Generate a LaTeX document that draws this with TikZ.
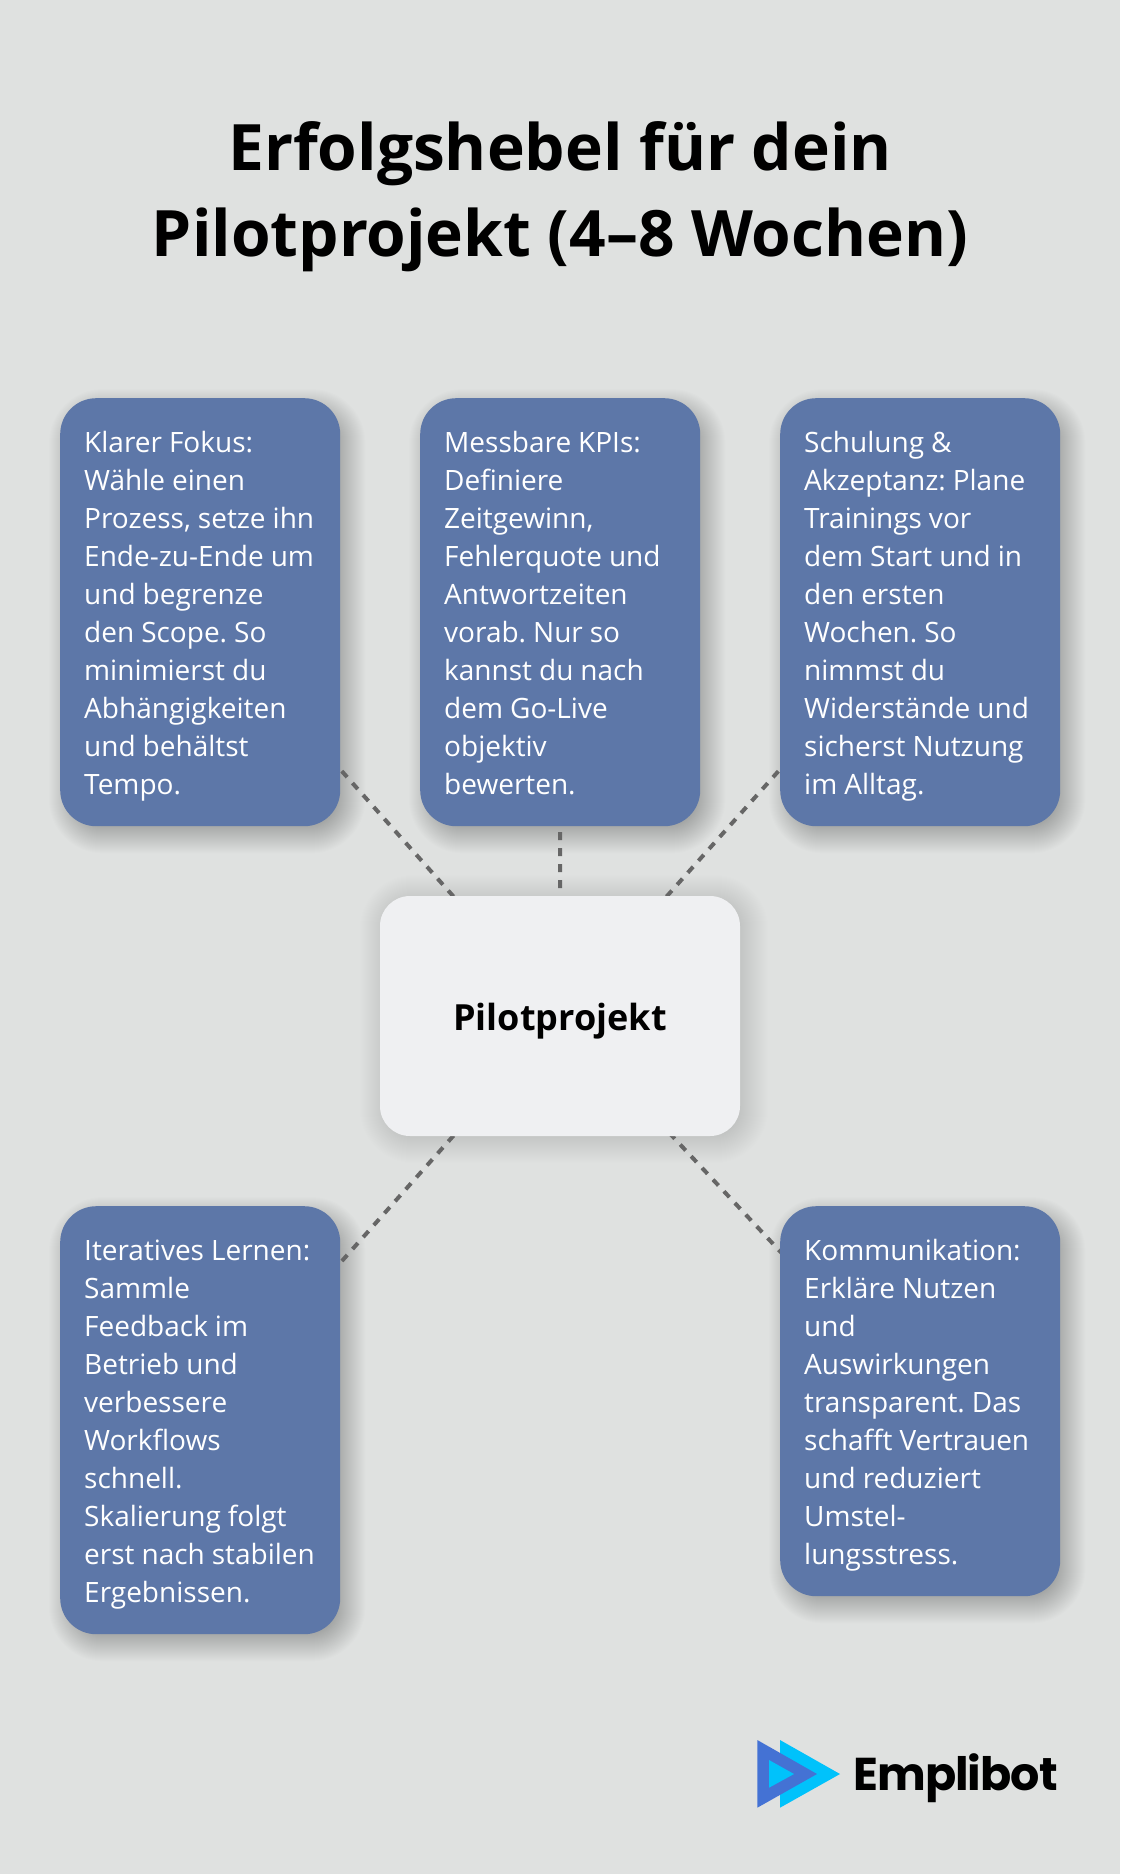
\documentclass[tikz,border=0pt]{standalone}
\usepackage{fontspec}
\setmainfont{Open Sans}
\newfontfamily\logofont[LetterSpace=-2]{Poppins}
\usetikzlibrary{calc}
\definecolor{pagebg}{HTML}{DFE1E0}
\definecolor{cardblue}{HTML}{5D77A8}
\definecolor{hubfill}{HTML}{EFF0F2}
\definecolor{linkgrey}{HTML}{666666}
\definecolor{logodark}{HTML}{4472D4}
\definecolor{logolight}{HTML}{00C2FB}
\pgfdeclarelayer{pagelayer}
\pgfdeclarelayer{shadowlayer}
\pgfdeclarelayer{linklayer}
\pgfsetlayers{pagelayer,shadowlayer,linklayer,main}
% node, dx, dy, radius, spread, opacity per step
\newcommand{\softshadow}[6]{%
  \foreach \s in {-#5,...,#5}{%
    \pgfmathsetmacro\rr{max(4,#4+\s)}%
    \fill[black,fill opacity=#6,rounded corners=\rr pt]
      ([shift={({#2pt-\s pt},{-#3pt+\s pt})}]#1.north west)
      rectangle ([shift={({#2pt+\s pt},{-#3pt-\s pt})}]#1.south east);
  }%
}
\tikzset{
  card/.style={draw=none,fill=cardblue,text=white,rounded corners=36pt,
    minimum width=280pt,text width=232pt,inner xsep=24pt,inner ysep=24pt,
    align=left,anchor=north west,font=\fontsize{28}{38}\selectfont\frenchspacing,
    execute at begin node={\spaceskip=7pt\rule{0pt}{30.4pt}},
    execute at end node={\rule[-7.6pt]{0pt}{0pt}}},
  hub/.style={draw=none,fill=hubfill,text=black,rounded corners=30pt,
    minimum width=360pt,minimum height=240pt,text height=28pt,text depth=0pt,
    font=\fontsize{36}{44}\bfseries\selectfont},
  link/.style={draw=linkgrey,line width=4pt,dash pattern=on 8pt off 8pt},
  titletext/.style={align=center,text=black,font=\fontsize{64}{86}\bfseries\selectfont},
}
\begin{document}
\begin{tikzpicture}[x=1pt,y=-1pt]
\useasboundingbox (0,0) rectangle (1120,1874);
\begin{pgfonlayer}{pagelayer}
\fill[pagebg] (0,0) rectangle (1120,1874);
\end{pgfonlayer}

\node[titletext] (title) at (560,197) {Erfolgshebel für dein\\Pilotprojekt (4–8 Wochen)};

\node[card] (fokus) at (60,398) {Klarer Fokus:\\Wähle einen\\\mbox{Prozess, setze ihn}\\\mbox{Ende-zu-Ende um}\\und begrenze\\den Scope. So\\minimierst du\\Abhängigkeiten\\und behältst\\Tempo.};
\node[card] (kpi) at (420,398) {Messbare KPIs:\\Definiere\\Zeitgewinn,\\Fehlerquote und\\Antwortzeiten\\vorab. Nur so\\kannst du nach\\dem Go-Live\\objektiv\\bewerten.};
\node[card] (schulung) at (780,398) {Schulung \&\\Akzeptanz: Plane\\Trainings vor\\dem Start und in\\den ersten\\Wochen. So\\nimmst du\\Widerstände und\\sicherst Nutzung\\im Alltag.};
\node[card] (lernen) at (60,1206) {\mbox{Iteratives Lernen:}\\Sammle\\Feedback im\\Betrieb und\\verbessere\\Workflows\\schnell.\\Skalierung folgt\\\mbox{erst nach stabilen}\\Ergebnissen.};
\node[card] (komm) at (780,1206) {Kommunikation:\\Erkläre Nutzen\\und\\Auswirkungen\\transparent. Das\\schafft Vertrauen\\und reduziert\\Umstel-\\lungsstress.};
\node[hub] (hub) at (560,1016) {Pilotprojekt};

\begin{pgfonlayer}{shadowlayer}
  \softshadow{fokus}{7}{9}{36}{18}{0.0075}
  \softshadow{kpi}{7}{9}{36}{18}{0.0075}
  \softshadow{schulung}{7}{9}{36}{18}{0.0075}
  \softshadow{lernen}{7}{9}{36}{18}{0.0075}
  \softshadow{komm}{7}{9}{36}{18}{0.0075}
  \softshadow{hub}{4}{3}{30}{24}{0.0048}
\end{pgfonlayer}

\begin{pgfonlayer}{linklayer}
  \draw[link] (hub.center) -- (fokus.center);
  \draw[link] (hub.center) -- (kpi.center);
  \draw[link] (hub.center) -- (schulung.center);
  \draw[link] (hub.center) -- (lernen.center);
  \draw[link] (hub.center) -- (komm.center);
\end{pgfonlayer}

\fill[logolight] (780,1740) -- (780,1807.7) -- (840,1774) -- cycle;
\fill[logodark] (757.3,1740) -- (757.3,1807.7) -- (817,1774) -- cycle;
\fill[logolight] (769,1760) -- (769,1787.7) -- (794,1774) -- cycle;
\node[anchor=base west,inner sep=0pt,text=black,font=\logofont\fontsize{46}{50}\bfseries\selectfont] (logo) at (853,1790) {Emplibot};
\end{tikzpicture}
\end{document}
